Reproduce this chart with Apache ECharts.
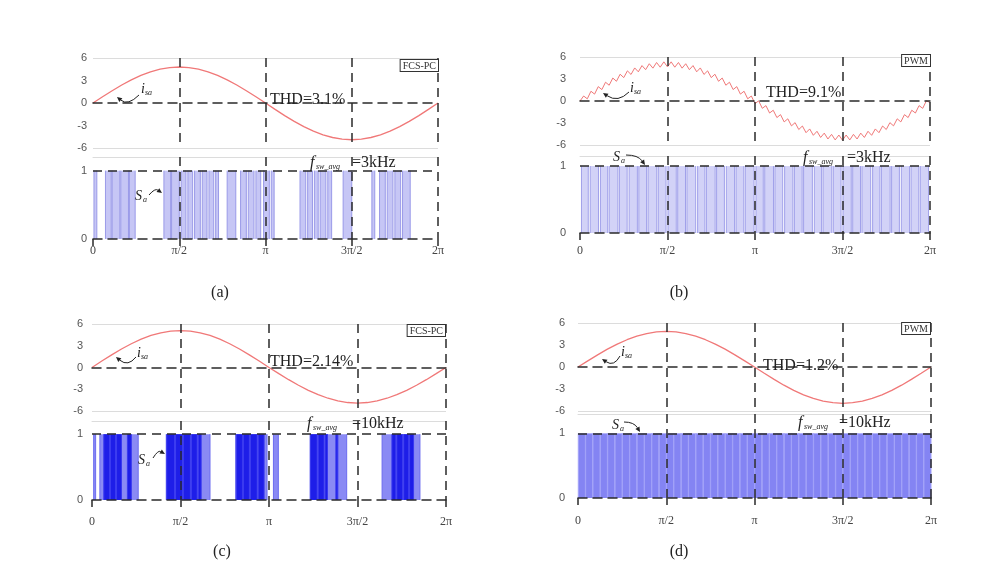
<!DOCTYPE html>
<html><head><meta charset="utf-8">
<script src="https://cdn.jsdelivr.net/npm/echarts@6/dist/echarts.min.js"></script>
<style>html,body{margin:0;padding:0;background:#fff}#c{width:999px;height:572px}</style>
</head><body><div id="c"></div><script>
// ---------- data ----------
const xTickValues = [0, 90, 180, 270, 360];
const xTickLabels = ['0', 'π/2', 'π', '3π/2', '2π'];
const angle10 = [0,10,20,30,40,50,60,70,80,90,100,110,120,130,140,150,160,170,180,190,200,210,220,230,240,250,260,270,280,290,300,310,320,330,340,350,360];
const iA = [0,.83,1.64,2.40,3.09,3.68,4.16,4.51,4.73,4.80,4.73,4.51,4.16,3.68,3.09,2.40,1.64,.83,0,-.85,-1.68,-2.45,-3.15,-3.75,-4.24,-4.60,-4.83,-4.90,-4.83,-4.60,-4.24,-3.75,-3.15,-2.45,-1.68,-.85,0];
const iB = [0,.68,.30,1.33,.94,1.96,1.56,2.56,2.15,3.13,2.69,3.65,3.19,4.11,3.62,4.51,3.98,4.83,4.27,5.08,4.48,5.25,4.61,5.34,4.65,5.34,4.61,5.25,4.48,5.08,4.27,4.83,3.98,4.51,3.62,4.11,3.19,3.65,2.69,3.13,2.15,2.56,1.56,1.96,.94,1.33,.30,.68,-.35,.02,-1.00,-.63,-1.64,-1.26,-2.26,-1.86,-2.85,-2.43,-3.39,-2.95,-3.89,-3.41,-4.32,-3.81,-4.68,-4.13,-4.97,-4.38,-5.18,-4.55,-5.31,-4.64,-5.35,-4.64,-5.31,-4.55,-5.18,-4.38,-4.97,-4.13,-4.68,-3.81,-4.32,-3.41,-3.89,-2.95,-3.39,-2.43,-2.85,-1.86,-2.26,-1.26,-1.64,-.63,-1.00,.02,-.2];
const iC = [0,.89,1.74,2.55,3.28,3.91,4.42,4.79,5.02,5.10,5.02,4.79,4.42,3.91,3.28,2.55,1.74,.89,0,-.85,-1.68,-2.45,-3.15,-3.75,-4.24,-4.60,-4.83,-4.90,-4.83,-4.60,-4.24,-3.75,-3.15,-2.45,-1.68,-.85,0];
const iD = [0,.84,1.66,2.43,3.12,3.72,4.20,4.56,4.78,4.85,4.78,4.56,4.20,3.72,3.12,2.43,1.66,.84,0,-.86,-1.69,-2.48,-3.18,-3.79,-4.29,-4.65,-4.87,-4.95,-4.87,-4.65,-4.29,-3.79,-3.18,-2.48,-1.69,-.86,0];
// switching pulses S_a as [on, off] angles (degrees)
const pulsesA = [[1,4],[13,19],[20,28],[29,37],[38,44],[74,81],[82,90],[92,97],[99,104],[106,112],[114,119],[121,126],[128,131],[140,149],[154,160],[162,168],[170,175],[178,184],[186,189],[216,222],[224,229],[231,235],[237,243],[245,249],[261,270],[291,294],[299,305],[307,313],[315,321],[323,331]];
const pulsesB = [[1.5,8.5],[10.5,19],[21,28.5],[30,39],[40.5,48.5],[50.5,59],[60.5,68.5],[70,79],[80.5,88.5],[90.5,99],[100.5,108.5],[110,119],[121,128.5],[130,139],[140.5,148.5],[150.5,159],[160.5,168.5],[170,179],[181,188.5],[190,199],[200.5,208.5],[210.5,219],[220.5,228.5],[230,239],[241,248.5],[250,259],[260.5,268.5],[270.5,279],[280.5,288.5],[290,299],[301,308.5],[310,319],[320.5,328.5],[330.5,339],[340.5,348.5],[350,358.5]];
const pulsesCLight = [[1.7,3.7],[8,47],[75.5,120],[146,178],[184.5,189.5],[222,259],[295,333.5]];
const pulsesCDark = [[12,18],[18.8,24],[25,30],[36,40],[76,84],[85,92],[92.8,100],[101,107],[108,111],[147,153],[154,160],[161,168],[169,175],[222,229],[230,236],[237,239.5],[248,250],[305,309],[310,316],[317,322],[323,327]];
const pulsesD = [[0.3,7.5],[7.8,15],[15.3,22.5],[22.8,30],[30.3,37.5],[37.8,45],[45.3,52.5],[52.8,60],[60.3,67.5],[67.8,75],[75.3,82.5],[82.8,90],[90.3,97.5],[97.8,105],[105.3,112.5],[112.8,120],[120.3,127.5],[127.8,135],[135.3,142.5],[142.8,150],[150.3,157.5],[157.8,165],[165.3,172.5],[172.8,180],[180.3,187.5],[187.8,195],[195.3,202.5],[202.8,210],[210.3,217.5],[217.8,225],[225.3,232.5],[232.8,240],[240.3,247.5],[247.8,255],[255.3,262.5],[262.8,270],[270.3,277.5],[277.8,285],[285.3,292.5],[292.8,300],[300.3,307.5],[307.8,315],[315.3,322.5],[322.8,330],[330.3,337.5],[337.8,345],[345.3,352.5],[352.8,360]];
const thdLabels = ['THD=3.1%', 'THD=9.1%', 'THD=2.14%', 'THD=1.2%'];
const fswLabels = ['=3kHz', '=3kHz', '=10kHz', '=10kHz'];
const methodLabels = ['FCS-PC', 'PWM', 'FCS-PC', 'PWM'];
const captions = ['(a)', '(b)', '(c)', '(d)'];

// ---------- layout ----------
const P = [
  {l:93,  r:438, t:58,  b1:148, t2:157, b2:239, ymax:1.2,  lm:6,  ym:6},
  {l:580, r:930, t:57,  b1:145, t2:156, b2:233, ymax:1.15, lm:12, ym:14},
  {l:92,  r:446, t:324, b1:411, t2:421, b2:500, ymax:1.2,  lm:16, ym:9},
  {l:578, r:931, t:323, b1:411, t2:414, b2:498, ymax:1.3,  lm:17, ym:13}
];
const curves = [
  {x: angle10, y: iA},
  {x: iB.map((v,i)=> i*360/(iB.length-1)), y: iB},
  {x: angle10, y: iC},
  {x: angle10, y: iD}
];
const DASH = [9, 6];
const BLK = '#2a2a2a';
const GRAY = '#dcdcdc';
const SERIF = '"Liberation Serif","DejaVu Serif",serif';

const tickFmt = v => { const i = xTickValues.indexOf(v); return i >= 0 ? xTickLabels[i] : ''; };

const grids = [], xAxes = [], yAxes = [], series = [];
P.forEach((p, k) => {
  grids.push({left:p.l, width:p.r-p.l, top:p.t, height:p.b1-p.t});
  grids.push({left:p.l, width:p.r-p.l, top:p.t2, height:p.b2-p.t2});
  xAxes.push({type:'value', gridIndex:2*k, min:0, max:360, interval:90, z:5,
    axisLine:{show:true, onZero:true, lineStyle:{color:BLK, width:1.5, type:DASH}},
    axisTick:{show:false}, axisLabel:{show:false},
    splitLine:{show:true, lineStyle:{color:['transparent',BLK,BLK,BLK,BLK], width:1.5, type:DASH}}});
  xAxes.push({type:'value', gridIndex:2*k+1, min:0, max:360, interval:90, z:5,
    axisLine:{show:true, onZero:false, lineStyle:{color:BLK, width:1.5, type:DASH}},
    axisTick:{show:true, length:7, lineStyle:{color:BLK, width:1.5}},
    axisLabel:{show:true, formatter:tickFmt, margin:p.lm, color:'#444', fontFamily:SERIF, fontSize:12},
    splitLine:{show:true, lineStyle:{color:['transparent',BLK,BLK,BLK,BLK], width:1.5, type:DASH}}});
  yAxes.push({type:'value', gridIndex:2*k, min:-6, max:6, interval:3, z:4,
    axisLine:{show:false}, axisTick:{show:false},
    axisLabel:{color:'#555', fontFamily:'"Liberation Sans",Arial,sans-serif', fontSize:11, margin:p.ym},
    splitLine:{show:true, lineStyle:{color:[GRAY,'transparent','transparent','transparent',GRAY], width:1}}});
  yAxes.push({type:'value', gridIndex:2*k+1, min:0, max:p.ymax, interval:1, z:5,
    axisLine:{show:false}, axisTick:{show:false},
    axisLabel:{color:'#555', fontFamily:'"Liberation Sans",Arial,sans-serif', fontSize:11, margin:p.ym,
      formatter: v => (v === 0 || v === 1) ? String(v) : ''},
    splitLine:{show:true, lineStyle:{color:['transparent',BLK,'transparent'], width:1.5, type:DASH}}});
});
P.forEach((p, k) => {
  xAxes.push({type:'value', gridIndex:2*k+1, position:'top', min:0, max:360, z:1,
    axisLine:{show:true, onZero:false, lineStyle:{color:GRAY, width:1}},
    axisTick:{show:false}, axisLabel:{show:false}, splitLine:{show:false}});
});

curves.forEach((c, k) => {
  series.push({type:'line', xAxisIndex:2*k, yAxisIndex:2*k, showSymbol:false, silent:true, z:3,
    data: c.x.map((x,i)=>[x, c.y[i]]),
    lineStyle:{color:'#f07878', width: k===1 ? 1 : 1.3}});
});

function pulseRender(fill, edge){
  return function(params, api){
    const p0 = api.coord([api.value(0), 1]);
    const p1 = api.coord([api.value(1), 0]);
    return {type:'group', children:[
      {type:'rect', shape:{x:p0[0], y:p0[1], width:p1[0]-p0[0], height:p1[1]-p0[1]}, style:{fill:fill}},
      {type:'line', shape:{x1:p0[0], y1:p0[1], x2:p0[0], y2:p1[1]}, style:{stroke:edge, lineWidth:1}},
      {type:'line', shape:{x1:p1[0], y1:p0[1], x2:p1[0], y2:p1[1]}, style:{stroke:edge, lineWidth:1}}
    ]};
  };
}
const pulseSets = [
  {k:0, d:pulsesA, fill:'#c6c6f5', edge:'#9a9ae8'},
  {k:1, d:pulsesB, fill:'#d2d2f7', edge:'#a0a0ea'},
  {k:2, d:pulsesCLight, fill:'#8a8af4', edge:'#6c6cf0'},
  {k:2, d:pulsesCDark, fill:'#1e1ee8', edge:'#3a3af0'},
  {k:3, d:pulsesD, fill:'#8484f3', edge:'#a2a2f8'}
];
pulseSets.forEach(s => {
  series.push({type:'custom', xAxisIndex:2*s.k+1, yAxisIndex:2*s.k+1, silent:true, z:2,
    data: s.d, encode:{x:[0,1]}, renderItem: pulseRender(s.fill, s.edge)});
});

// ---------- annotations ----------
const G = [];
function txt(x, y, text, font, align, color){
  G.push({type:'text', z:50, style:{x, y, text, font, fill: color || '#222',
    align: align || 'left', textAlign: align || 'left', verticalAlign:'middle', textVerticalAlign:'middle'}});
}
function arrow(x1,y1,cx,cy,x2,y2){
  const ang = Math.atan2(y2-cy, x2-cx), L = 5, W = 2.4;
  const hx = x2 - L*Math.cos(ang), hy = y2 - L*Math.sin(ang);
  G.push({type:'bezierCurve', z:50, shape:{x1, y1, x2:hx, y2:hy, cpx1:cx, cpy1:cy},
    style:{stroke:'#222', lineWidth:1, fill:null}});
  G.push({type:'polygon', z:50, shape:{points:[[x2,y2],[hx - W*Math.sin(ang), hy + W*Math.cos(ang)],[hx + W*Math.sin(ang), hy - W*Math.cos(ang)]]},
    style:{fill:'#222'}});
}
function subLabel(x, y, main, sub, size, subDx){
  txt(x, y, main, 'italic ' + size + 'px ' + SERIF);
  txt(x + subDx, y + 4, sub, 'italic ' + Math.round(size*0.6) + 'px ' + SERIF);
}
function boxLabel(xr, yt, text){
  G.push({type:'text', z:50, style:{x:xr, y:yt, text, font:'10px ' + SERIF, fill:'#333',
    align:'right', textAlign:'right', verticalAlign:'top', textVerticalAlign:'top',
    borderColor:'#333', borderWidth:1, padding:[1,2,0,2], backgroundColor:'#fff'}});
}
const ann = [
  {isa:[141,89], ia:[139,95,128,106,117,97], sa:[135,196], sarr:[149,195,155,188,162,193],
   f:[310,163,352], thd:[270,100], box:[438,60], cap:[220,293]},
  {isa:[630,88], ia:[629,92,618,103,603,93], sa:[613,157], sarr:[626,155,638,155,645,165],
   f:[803,158,847], thd:[766,93], box:[930,55], cap:[679,293]},
  {isa:[137,353], ia:[136,357,128,367,116,357], sa:[138,460], sarr:[153,458,158,450,165,454],
   f:[307,424,352], thd:[270,362], box:[445,325], cap:[222,552]},
  {isa:[621,352], ia:[620,356,614,367,602,359], sa:[612,425], sarr:[624,422,634,422,640,432],
   f:[798,423,839], thd:[763,366], box:[930,323], cap:[679,552]}
];
ann.forEach((a, k) => {
  subLabel(a.isa[0], a.isa[1], 'i', 'sa', 14, 4);
  arrow(...a.ia);
  subLabel(a.sa[0], a.sa[1], 'S', 'a', 14, 8);
  arrow(...a.sarr);
  txt(a.f[0], a.f[1], 'f', 'italic 16px ' + SERIF);
  txt(a.f[0] + 6, a.f[1] + 4, 'sw_avg', 'italic 8px ' + SERIF);
  txt(a.f[2], a.f[1], fswLabels[k], '16px ' + SERIF);
  txt(a.thd[0], a.thd[1], thdLabels[k], '16px ' + SERIF);
  boxLabel(a.box[0], a.box[1], methodLabels[k]);
  txt(a.cap[0], a.cap[1], captions[k], '16px ' + SERIF, 'center', '#222');
});

const chart = echarts.init(document.getElementById('c'), null, {renderer:'canvas'});
chart.setOption({
  animation:false,
  backgroundColor:'#fff',
  grid: grids, xAxis: xAxes, yAxis: yAxes, series,
  graphic: G
});
</script></body></html>
